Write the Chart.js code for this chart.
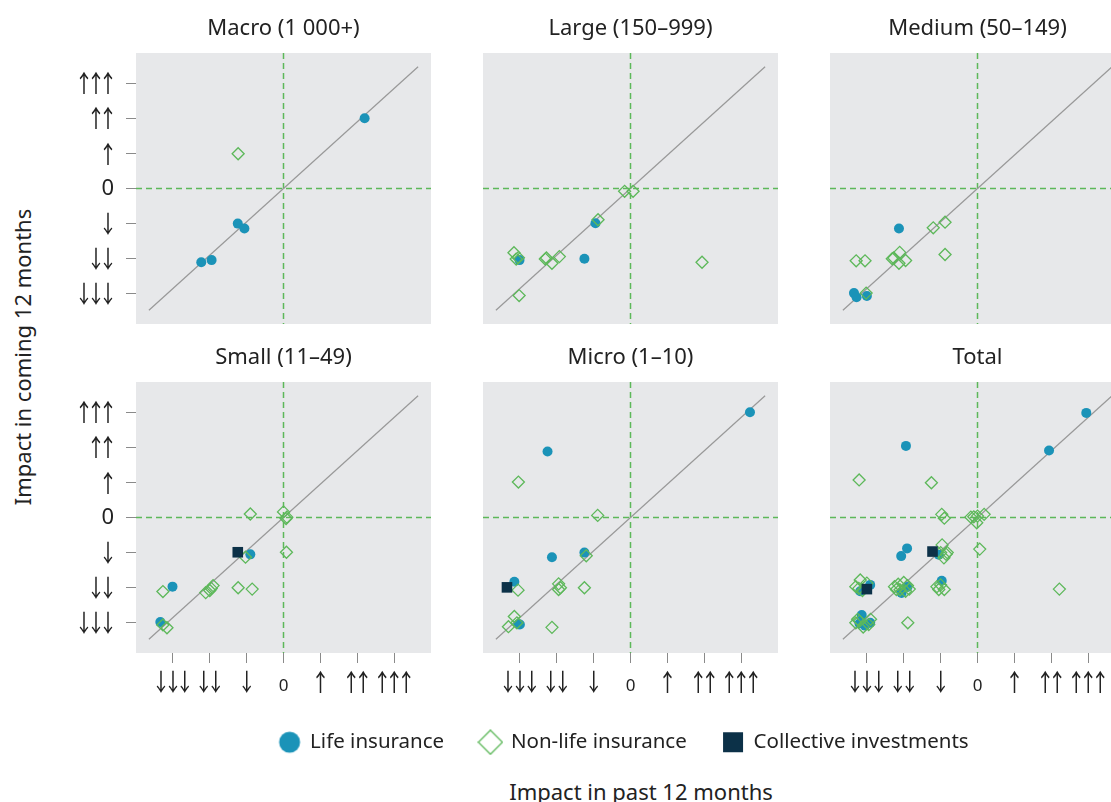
<!DOCTYPE html>
<html>
<head>
<meta charset="utf-8">
<script src="https://cdn.jsdelivr.net/npm/chart.js@4.4.1/dist/chart.umd.min.js"></script>
<style>
  html, body { margin: 0; padding: 0; width: 1111px; height: 802px; overflow: hidden; background: #fff; }
  body { position: relative; font-family: 'Noto Sans', sans-serif; color: #222; }
  .box { position: absolute; }
  .ytitle { position: absolute; left: 22px; top: 357px; transform: translate(-50%, -50%) rotate(-90deg);
            white-space: nowrap; font-size: 22px; }
  .xtitle { position: absolute; left: 641px; top: 791px; transform: translate(-50%, -50%);
            white-space: nowrap; font-size: 22px; }
</style>
</head>
<body>
<div class="ytitle">Impact in coming 12 months</div>
<div class="xtitle">Impact in past 12 months</div>
<script>
// ---- data ---------------------------------------------------------------
const tickValues = [-3, -2, -1, 0, 1, 2, 3];
const tickLabels = ['￬￬￬', '￬￬', '￬', '0', '￪', '￪￪', '￪￪￪'];

const panelTitles = ['Macro (1 000+)', 'Large (150–999)', 'Medium (50–149)',
                     'Small (11–49)', 'Micro (1–10)', 'Total'];
const seriesNames = ['Life insurance', 'Non-life insurance', 'Collective investments'];

// [past 12 months, coming 12 months]
const macroLife = [[2.2, 2.0], [-1.24, -1.0], [-1.06, -1.14], [-2.23, -2.1], [-1.95, -2.04]];
const macroNonLife = [[-1.23, 0.99]];
const macroCollective = [];

const largeLife = [[-0.95, -0.99], [-3.01, -2.04], [-1.25, -2.0]];
const largeNonLife = [[-0.16, -0.08], [0.07, -0.08], [-0.88, -0.89], [-3.16, -1.83], [-3.1, -2.01],
                      [-3.04, -1.97], [-2.31, -2.01], [-2.28, -1.98], [-2.13, -2.13], [-1.93, -1.94],
                      [-3.02, -3.05], [1.94, -2.1]];
const largeCollective = [];

const mediumLife = [[-2.13, -1.14], [-3.35, -2.98], [-3.28, -3.1], [-3.0, -3.06]];
const mediumNonLife = [[-1.2, -1.12], [-0.88, -0.96], [-0.88, -1.88], [-3.29, -2.06], [-3.05, -2.06],
                       [-2.31, -2.0], [-2.27, -1.98], [-2.11, -1.82], [-2.13, -2.13], [-1.95, -2.05],
                       [-3.02, -2.98]];
const mediumCollective = [];

const smallLife = [[-0.9, -1.05], [-3.01, -1.97], [-3.34, -2.98]];
const smallNonLife = [[-0.9, 0.1], [0.0, 0.16], [0.09, 0.01], [0.07, -0.03], [0.08, -0.99],
                      [-1.03, -1.13], [-3.27, -2.11], [-2.11, -2.14], [-2.0, -2.08], [-1.91, -1.94],
                      [-1.96, -2.02], [-1.23, -2.0], [-0.85, -2.04], [-3.27, -3.06], [-3.16, -3.14]];
const smallCollective = [[-1.24, -0.99]];

const microLife = [[3.24, 3.0], [-2.25, 1.88], [-1.25, -1.0], [-2.13, -1.13], [-3.15, -1.83],
                   [-3.04, -3.04], [-3.0, -3.05]];
const microNonLife = [[-3.04, 1.01], [-0.89, 0.06], [-1.2, -1.09], [-3.05, -2.07], [-1.95, -1.89],
                      [-1.95, -2.05], [-1.9, -2.0], [-1.25, -2.0], [-3.15, -2.82], [-3.31, -3.11],
                      [-3.08, -3.0], [-2.13, -3.13]];
const microCollective = [[-3.35, -1.99]];

const totalLife = [[2.95, 2.98], [1.94, 1.91], [-1.94, 2.04], [-1.91, -0.88], [-2.07, -1.1],
                   [-1.05, -1.06], [-2.91, -1.92], [-3.18, -2.1], [-2.06, -2.15], [-1.9, -1.98],
                   [-0.97, -1.8], [-3.14, -2.78], [-2.91, -3.0], [-3.05, -3.08], [-3.2, -3.02]];
const totalNonLife = [[-3.21, 1.07], [-1.25, 0.99], [-0.97, 0.09], [-0.9, -0.02], [-0.18, 0.01],
                      [-0.1, 0.02], [0.0, 0.04], [-0.02, -0.15], [0.18, 0.09], [0.06, -0.9],
                      [-0.96, -0.78], [-1.0, -1.0], [-0.82, -1.0], [-0.91, -1.15], [-0.85, -1.05],
                      [-3.18, -1.78], [-3.3, -1.97], [-3.22, -2.02], [-3.0, -1.87], [-3.12, -2.08],
                      [-2.25, -1.97], [-2.15, -1.9], [-2.0, -1.85], [-1.9, -1.94], [-1.85, -2.04],
                      [-2.1, -2.06], [-2.2, -2.05], [-1.95, -2.1],
                      [-1.1, -1.97], [-1.0, -1.92], [-0.9, -2.05], [-1.05, -2.05],
                      [-3.3, -3.0], [-3.2, -2.95], [-3.1, -3.12], [-2.95, -3.05], [-2.9, -2.9],
                      [-3.25, -2.9], [-1.89, -3.0], [2.22, -2.04]];
const totalCollective = [[-1.22, -0.97], [-3.0, -2.04]];

const panelSeries = [
  [macroLife, macroNonLife, macroCollective],
  [largeLife, largeNonLife, largeCollective],
  [mediumLife, mediumNonLife, mediumCollective],
  [smallLife, smallNonLife, smallCollective],
  [microLife, microNonLife, microCollective],
  [totalLife, totalNonLife, totalCollective]
];

// 45° reference line end points
const diagonalX = [-3.65, 3.65];
const diagonalY = [-3.47, 3.47];

// ---- styling / layout ---------------------------------------------------
const X_MIN = -4, X_MAX = 4, Y_MIN = -3.86, Y_MAX = 3.86;
const AREA_W = 295, AREA_H = 271;
const COL_LEFT = [136, 483, 830];
const ROW_TOP = [53, 382];
const Y_AXIS_W = 67, X_AXIS_H = 55;
const TITLE_SIZE = 22, TITLE_LINE = 26, TITLE_GAP = 11, TITLE_H = TITLE_LINE + TITLE_GAP;

const C_LIFE = '#1b93b8';
const C_NONLIFE = '#5db85a';
const C_COLLECTIVE = '#0c3148';
const C_PANEL = '#e7e8ea';
const C_DIAG = '#999999';
const C_TICK = '#8a8a8a';
const C_TEXT = '#222222';

const ARROW_FONT = "'Noto Sans CJK JP', 'Noto Sans CJK SC', sans-serif";
const ARROW_SIZE = 24, ARROW_LH = 1.2;

Chart.defaults.font.family = "'Noto Sans', sans-serif";
Chart.defaults.color = C_TEXT;

const panelBackground = {
  id: 'panelBackground',
  beforeDraw(chart) {
    const { ctx, chartArea: a } = chart;
    if (!a) return;
    ctx.save();
    ctx.fillStyle = C_PANEL;
    ctx.fillRect(a.left, a.top, a.width, a.height);
    ctx.restore();
  }
};

// dashed zero lines on both axes, placed through the scales
const zeroGuides = {
  id: 'zeroGuides',
  beforeDatasetsDraw(chart) {
    const { ctx, chartArea: a, scales } = chart;
    const px = scales.x.getPixelForValue(0);
    const py = scales.y.getPixelForValue(0);
    ctx.save();
    ctx.beginPath();
    ctx.rect(a.left, a.top, a.width, a.height);
    ctx.clip();
    ctx.strokeStyle = C_NONLIFE;
    ctx.lineWidth = 1.5;
    ctx.setLineDash([6, 4]);
    ctx.beginPath();
    ctx.moveTo(a.left, py); ctx.lineTo(a.right, py);
    ctx.stroke();
    ctx.beginPath();
    ctx.moveTo(px, a.top); ctx.lineTo(px, a.bottom);
    ctx.stroke();
    ctx.restore();
  }
};

const toPoints = arr => arr.map(p => ({ x: p[0], y: p[1] }));
const labelFor = v => {
  const i = tickValues.indexOf(v);
  return i >= 0 ? tickLabels[i] : '';
};

function tickFont(isX) {
  return ctx => {
    if (ctx.tick && ctx.tick.value === 0) {
      // the zero label sits a little lower on the x axis, level with the arrow feet
      return isX
        ? { family: "'Noto Sans', sans-serif", size: 17, lineHeight: (ARROW_SIZE * ARROW_LH + 9) / 17 }
        : { family: "'Noto Sans', sans-serif", size: 22 };
    }
    return { family: ARROW_FONT, size: ARROW_SIZE, lineHeight: ARROW_LH };
  };
}

function makeScale(show, isX) {
  return {
    type: 'linear',
    display: show,
    min: isX ? X_MIN : Y_MIN,
    max: isX ? X_MAX : Y_MAX,
    afterBuildTicks: axis => { axis.ticks = tickValues.map(v => ({ value: v })); },
    afterFit: s => {
      s.paddingLeft = 0; s.paddingRight = 0; s.paddingTop = 0; s.paddingBottom = 0;
      if (!show) return;
      if (isX) s.height = X_AXIS_H; else s.width = Y_AXIS_W;
    },
    grid: { drawOnChartArea: false, drawTicks: true, tickLength: 10, tickColor: C_TICK, tickWidth: 1 },
    border: { display: false },
    ticks: {
      callback: v => labelFor(v),
      autoSkip: false, maxRotation: 0, padding: isX ? 4 : 12,
      color: C_TEXT, font: tickFont(isX)
    }
  };
}

function makeDatasets(series) {
  const [life, nonLife, collective] = series;
  return [
    { label: seriesNames[2], data: toPoints(collective), pointStyle: 'rect', pointRadius: 7.5,
      backgroundColor: C_COLLECTIVE, borderWidth: 0, order: 0 },
    { label: seriesNames[1], data: toPoints(nonLife), pointStyle: 'rectRot', pointRadius: 6,
      backgroundColor: 'rgba(0,0,0,0)', borderColor: C_NONLIFE, borderWidth: 1.3, order: 1 },
    { label: seriesNames[0], data: toPoints(life), pointStyle: 'circle', pointRadius: 5,
      backgroundColor: C_LIFE, borderWidth: 0, order: 2 },
    { label: 'diagonal', data: [{ x: diagonalX[0], y: diagonalY[0] }, { x: diagonalX[1], y: diagonalY[1] }],
      showLine: true, pointRadius: 0, borderColor: C_DIAG, borderWidth: 1.2, order: 3 }
  ];
}

function addCanvas(left, top, w, h) {
  const div = document.createElement('div');
  div.className = 'box';
  div.style.left = left + 'px';
  div.style.top = top + 'px';
  div.style.width = w + 'px';
  div.style.height = h + 'px';
  const cv = document.createElement('canvas');
  cv.width = w; cv.height = h;
  cv.style.width = w + 'px'; cv.style.height = h + 'px';
  div.appendChild(cv);
  document.body.appendChild(div);
  return cv;
}

panelTitles.forEach((title, idx) => {
  const r = Math.floor(idx / 3), c = idx % 3;
  const hasY = c === 0, hasX = r === 1;
  const left = COL_LEFT[c] - (hasY ? Y_AXIS_W : 0);
  const top = ROW_TOP[r] - TITLE_H;
  const w = AREA_W + (hasY ? Y_AXIS_W : 0);
  const h = TITLE_H + AREA_H + (hasX ? X_AXIS_H : 0);
  const cv = addCanvas(left, top, w, h);
  new Chart(cv, {
    type: 'scatter',
    data: { datasets: makeDatasets(panelSeries[idx]) },
    options: {
      responsive: false, animation: false,
      layout: { padding: 0, autoPadding: false },
      plugins: {
        legend: { display: false },
        tooltip: { enabled: false },
        title: { display: true, text: title, fullSize: false, color: C_TEXT,
                 font: { size: TITLE_SIZE, weight: 'normal', lineHeight: TITLE_LINE / TITLE_SIZE },
                 padding: { top: 0, bottom: TITLE_GAP } }
      },
      scales: { x: makeScale(hasX, true), y: makeScale(hasY, false) }
    },
    plugins: [panelBackground, zeroGuides]
  });
});

// ---- legend ---------------------------------------------------------------
function markerImage(kind) {
  const s = 26, cv = document.createElement('canvas');
  cv.width = s; cv.height = s;
  const g = cv.getContext('2d');
  const m = s / 2;
  if (kind === 'circle') {
    g.fillStyle = C_LIFE; g.beginPath(); g.arc(m, m, 10.5, 0, Math.PI * 2); g.fill();
  } else if (kind === 'diamond') {
    g.strokeStyle = C_NONLIFE; g.lineWidth = 1.3; g.beginPath();
    g.moveTo(m, m - 12); g.lineTo(m + 12, m); g.lineTo(m, m + 12); g.lineTo(m - 12, m); g.closePath(); g.stroke();
  } else {
    g.fillStyle = C_COLLECTIVE; g.fillRect(m - 10, m - 10, 20, 20);
  }
  return cv;
}
const legendMarkers = [markerImage('circle'), markerImage('diamond'), markerImage('square')];

const LEGEND_PAD = 36, LEGEND_BOX = 26, LEGEND_Y = 745;
const legendCanvas = addCanvas(137, LEGEND_Y - LEGEND_PAD - LEGEND_BOX / 2, 974, 2 * LEGEND_PAD + LEGEND_BOX);
new Chart(legendCanvas, {
  type: 'scatter',
  data: { datasets: seriesNames.map(n => ({ label: n, data: [] })) },
  options: {
    responsive: false, animation: false,
    layout: { padding: 0, autoPadding: false },
    scales: { x: { display: false }, y: { display: false } },
    plugins: {
      tooltip: { enabled: false },
      legend: {
        display: true, position: 'top', align: 'center', maxHeight: 200,
        labels: {
          usePointStyle: true, boxWidth: LEGEND_BOX, boxHeight: LEGEND_BOX, padding: LEGEND_PAD,
          color: C_TEXT, font: { size: 20.5 },
          generateLabels: chart => seriesNames.map((n, i) => ({
            text: n, pointStyle: legendMarkers[i], fillStyle: 'rgba(0,0,0,0)',
            strokeStyle: 'rgba(0,0,0,0)', lineWidth: 0, hidden: false, datasetIndex: i, fontColor: C_TEXT
          }))
        }
      }
    }
  }
});
</script>
</body>
</html>
